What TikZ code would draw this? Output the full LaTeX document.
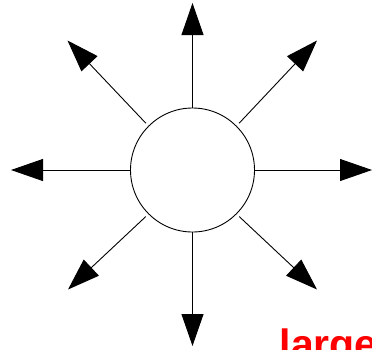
\documentclass[tikz,border=0pt]{standalone}
\usepackage{fontspec}
\setmainfont{Liberation Sans}
\usetikzlibrary{arrows.meta}
\begin{document}
\begin{tikzpicture}[x=1pt,y=-1pt,
  ray/.style={line width=0.9pt,-{Triangle[length=32pt,width=22pt]}},
  diag/.style={ray,shorten <=3.5pt}]
\useasboundingbox (0,0) rectangle (372,349);
\node[circle,draw,line width=0.9pt,minimum size=124pt,inner sep=0pt] (c) at (192.5,170) {};
\coordinate (tn) at (192.5,3);
\coordinate (ts) at (192.5,346);
\coordinate (tw) at (11,170);
\coordinate (te) at (372,170);
\coordinate (tnw) at (67.5,40.5);
\coordinate (tne) at (317,40.5);
\coordinate (tsw) at (68,289.5);
\coordinate (tse) at (317,289.5);
\draw[ray] (c.north) -- (tn);
\draw[ray] (c.south) -- (ts);
\draw[ray] (c.west) -- (tw);
\draw[ray] (c.east) -- (te);
\draw[diag] (c.north west) -- (tnw);
\draw[diag] (c.north east) -- (tne);
\draw[diag] (c.south west) -- (tsw);
\draw[diag] (c.south east) -- (tse);
\node[anchor=base west,inner sep=0pt,text=red,font=\fontsize{41}{44}\selectfont\bfseries] (lbl) at (279.5,358.5) {large};
\end{tikzpicture}
\end{document}
